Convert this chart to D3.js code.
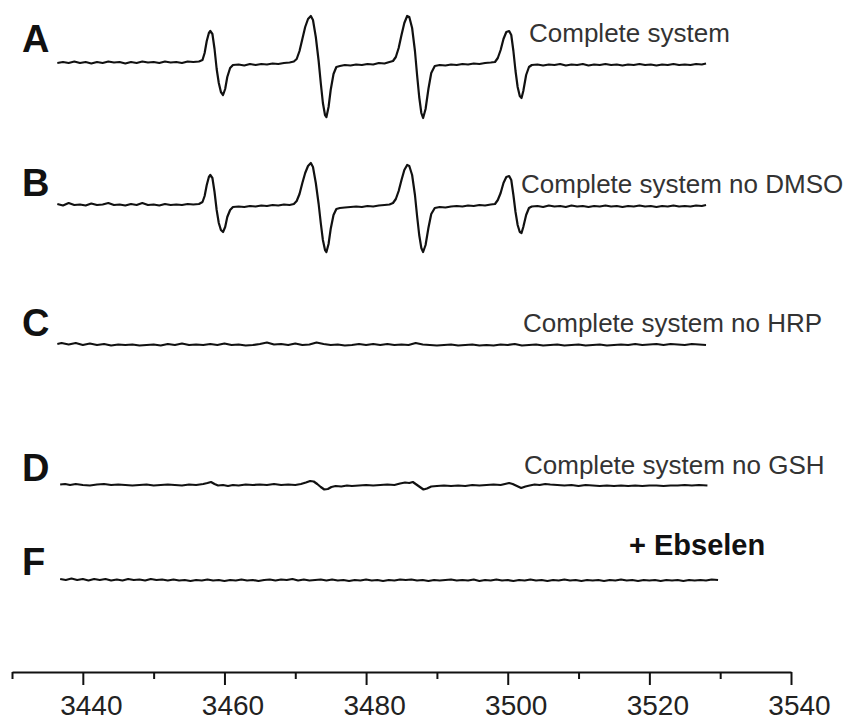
<!DOCTYPE html>
<html>
<head>
<meta charset="utf-8">
<script src="https://cdn.jsdelivr.net/npm/d3@7/dist/d3.min.js"></script>
<style>
  html, body { margin: 0; padding: 0; background: #fff; }
  svg { display: block; }
  text { font-family: "Liberation Sans", Arial, sans-serif; fill: #111; }
</style>
</head>
<body>
<svg id="chart" width="845" height="722"></svg>
<script>
// ---------------- DATA (field in gauss, intensity in arbitrary units) ----------------
const panelLetters = ["A", "B", "C", "D", "F"];
const panelTitles = ["Complete system", "Complete system no DMSO", "Complete system no HRP", "Complete system no GSH", "+ Ebselen"];
const tickValues = [3430, 3440, 3450, 3460, 3470, 3480, 3490, 3500, 3510, 3520, 3530, 3540];
const tickLabels = ["3440", "3460", "3480", "3500", "3520", "3540"];

const traceA = [
  [3436.4,0],[3437.2,1],[3438.0,0],[3438.8,1.5],[3439.6,0],[3440.4,1],[3441.2,-0.5],[3442.0,1],[3442.8,0],[3443.6,1.5],
  [3444.4,0.5],[3445.2,1],[3446.0,-0.5],[3446.8,1],[3447.6,0],[3448.4,1.5],[3449.2,0.5],[3450.0,1],[3450.8,0],[3451.6,1.5],
  [3452.4,0.5],[3453.2,1],[3454.0,0],[3454.8,1.5],[3455.6,1],[3456.4,1.5],[3456.9,3],
  [3457.2,10],[3457.5,22],[3457.8,30],[3458.0,32],[3458.3,29],[3458.6,14],[3458.9,-6],[3459.2,-20],[3459.5,-29],[3459.8,-32],
  [3460.1,-26],[3460.4,-14],[3460.8,-5],[3461.2,-2],
  [3462.0,-1.5],[3462.8,-2.5],[3463.6,-1],[3464.4,-2],[3465.2,-1],[3466.0,-1.5],[3466.8,-0.5],[3467.6,-1],[3468.4,0],[3469.2,0.5],[3469.8,1.5],
  [3470.2,4],[3470.6,12],[3471.0,24],[3471.4,36],[3471.8,44],[3472.2,47],[3472.5,43],[3472.9,26],[3473.3,2],[3473.6,-20],
  [3473.9,-40],[3474.2,-52],[3474.4,-54],[3474.7,-44],[3475.0,-27],[3475.4,-11],[3475.8,-4],[3476.3,-3],
  [3477.0,-2],[3477.8,-2.5],[3478.6,-1.5],[3479.4,-2],[3480.2,-1],[3481.0,-1.5],[3481.8,0],[3482.6,-0.5],[3483.3,1],[3483.8,2],
  [3484.2,6],[3484.6,15],[3485.0,28],[3485.4,40],[3485.8,47],[3486.1,46],[3486.5,35],[3486.9,12],[3487.2,-12],[3487.5,-34],
  [3487.8,-50],[3488.05,-55],[3488.4,-46],[3488.8,-26],[3489.2,-10],[3489.7,-3],
  [3490.4,-2],[3491.2,-2.5],[3492.0,-1.5],[3492.8,-2],[3493.6,-1],[3494.4,-1.5],[3495.2,-0.5],[3496.0,-1],[3496.8,0],[3497.6,0.5],[3498.2,1],
  [3498.6,5],[3499.0,13],[3499.4,24],[3499.8,31],[3500.2,32],[3500.5,28],[3500.8,12],[3501.1,-8],[3501.4,-24],[3501.7,-33],
  [3501.95,-35],[3502.2,-28],[3502.6,-12],[3503.0,-4],[3503.4,-2],
  [3504.2,-1.5],[3505.0,-2.5],[3505.8,-1.5],[3506.6,-2],[3507.4,-1],[3508.2,-2.5],[3509.0,-1.5],[3509.8,-2],[3510.6,-1],[3511.4,-2.5],
  [3512.2,-1.5],[3513.0,-2],[3513.8,-1],[3514.6,-2],[3515.4,-1.5],[3516.2,-2.5],[3517.0,-1.5],[3517.8,-2],[3518.6,-1],[3519.4,-2],
  [3520.2,-1.5],[3521.0,-2.5],[3521.8,-1.5],[3522.6,-2],[3523.4,-1],[3524.2,-2],[3525.0,-1.5],[3525.8,-2],[3526.6,-1],[3527.4,-1.5],[3528.0,-0.5]
];

const traceB = [
  [3436.4,1],[3437.2,-0.5],[3438.0,2],[3438.8,0],[3439.6,0.5],[3440.4,-0.5],[3441.2,1.5],[3442.0,0],[3442.8,0.5],[3443.6,2],
  [3444.4,0],[3445.2,0.5],[3446.0,-0.5],[3446.8,1],[3447.6,0],[3448.4,2],[3449.2,0],[3450.0,0.5],[3450.8,-0.5],[3451.6,1],
  [3452.4,0],[3453.2,0.5],[3454.0,0],[3454.8,1],[3455.6,0.5],[3456.4,1],[3456.9,3],
  [3457.2,9],[3457.5,20],[3457.8,28],[3458.0,30],[3458.3,27],[3458.6,13],[3458.9,-5],[3459.2,-18],[3459.5,-25],[3459.8,-27],
  [3460.1,-22],[3460.4,-12],[3460.8,-5],[3461.2,-2],
  [3462.0,-1.5],[3462.8,-2],[3463.6,-1],[3464.4,-1.5],[3465.2,-0.5],[3466.0,-1],[3466.8,0],[3467.6,-0.5],[3468.4,0.5],[3469.2,0],[3469.8,1],
  [3470.2,4],[3470.6,11],[3471.0,22],[3471.4,32],[3471.8,39],[3472.2,42],[3472.5,38],[3472.9,22],[3473.3,1],[3473.6,-18],
  [3473.9,-35],[3474.2,-45],[3474.4,-47],[3474.7,-39],[3475.0,-24],[3475.4,-10],[3475.8,-4],[3476.3,-3],
  [3477.0,-2.5],[3477.8,-2],[3478.6,-1.5],[3479.4,-2],[3480.2,-1],[3481.0,-1.5],[3481.8,-0.5],[3482.6,0],[3483.3,0.5],[3483.8,2],
  [3484.2,6],[3484.6,14],[3485.0,25],[3485.4,35],[3485.8,40],[3486.1,39],[3486.5,30],[3486.9,10],[3487.2,-11],[3487.5,-30],
  [3487.8,-43],[3488.05,-47],[3488.4,-40],[3488.8,-23],[3489.2,-9],[3489.7,-3],
  [3490.4,-2],[3491.2,-2.5],[3492.0,-1.5],[3492.8,-1],[3493.6,-1.5],[3494.4,-0.5],[3495.2,-1],[3496.0,0],[3496.8,-0.5],[3497.6,0.5],[3498.2,1],
  [3498.6,5],[3499.0,12],[3499.4,22],[3499.8,28],[3500.2,29],[3500.5,25],[3500.8,10],[3501.1,-7],[3501.4,-20],[3501.7,-27],
  [3501.95,-28],[3502.2,-22],[3502.6,-10],[3503.0,-3],[3503.4,-1.5],
  [3504.2,-1],[3505.0,-2],[3505.8,-0.5],[3506.6,-1.5],[3507.4,-1],[3508.2,-2],[3509.0,-0.5],[3509.8,-1.5],[3510.6,-1],[3511.4,-2],
  [3512.2,-1],[3513.0,-1.5],[3513.8,-0.5],[3514.6,-1.5],[3515.4,-1],[3516.2,-2],[3517.0,-1],[3517.8,-1.5],[3518.6,-0.5],[3519.4,-1.5],
  [3520.2,-1],[3521.0,-2],[3521.8,-1],[3522.6,-1.5],[3523.4,-0.5],[3524.2,-1.5],[3525.0,-1],[3525.8,-1.5],[3526.6,-0.5],[3527.4,-1],[3528.0,0]
];

const traceC = [
  [3436.4,1],[3437,2],[3438,0.5],[3439,2],[3440,0],[3441,1.5],[3442,0],[3443,1],[3444,-0.5],[3445,0.5],
  [3446,0],[3447,0.5],[3448,-0.5],[3449,0],[3450,0.5],[3451,-0.5],[3452,1],[3453,0],[3454,1.5],[3455,0],
  [3456,0.5],[3457,0],[3458,1],[3459,0],[3460,1.5],[3461,0],[3462,0.5],[3463,-0.5],[3464,0],[3465,1],
  [3466,2.5],[3467,0.5],[3468,1],[3469,0],[3470,1.5],[3471,0],[3472,0.5],[3473,2.5],[3474,1],[3475,0],
  [3476,0.5],[3477,-0.5],[3478,0],[3479,1],[3480,0],[3481,1],[3482,0],[3483,1],[3484,0],[3485,0.5],
  [3486,0],[3487,2],[3488,0.5],[3489,0],[3490,-0.5],[3491,0],[3492,0.5],[3493,-0.5],[3494,0],[3495,0.5],
  [3496,-0.5],[3497,0],[3498,-0.5],[3499,0.5],[3500,0],[3501,1],[3502,-0.5],[3503,0],[3504,0.5],[3505,-0.5],
  [3506,0],[3507,0.5],[3508,-0.5],[3509,0],[3510,0.5],[3511,-0.5],[3512,0],[3513,0.5],[3514,-0.5],[3515,0],
  [3516,0.5],[3517,0],[3518,1],[3519,0],[3520,0.5],[3521,1],[3522,0],[3523,1],[3524,0.5],[3525,0],
  [3526,1],[3527,0.5],[3528,0]
];

const traceD = [
  [3436.8,0.5],[3437.5,1],[3438.2,0],[3439,1],[3440,0],[3441,-0.5],[3442,0.5],[3443,1],[3444,0],[3445,0.5],
  [3446,0],[3447,-0.5],[3448,0],[3449,0.5],[3450,-0.5],[3451,0],[3452,0.5],[3453,0],[3454,-0.5],[3455,0.5],
  [3456,0],[3457,1],[3457.6,2],[3458.1,3],[3458.6,1],[3459.1,-0.5],[3459.8,0],[3460.5,-1],[3461.2,0],[3462,-0.5],
  [3463,0.5],[3464,0],[3465,0.5],[3466,0],[3467,1],[3468,0],[3469,0.5],[3470,0],[3470.8,1],[3471.5,2.5],
  [3472.1,4],[3472.6,3.5],[3473.1,1],[3473.6,-2],[3474.1,-4.5],[3474.6,-4],[3475.1,-2],[3475.7,-1],[3476.5,-1.5],[3477.3,-0.5],
  [3478,-1],[3479,-0.5],[3480,0],[3481,-0.5],[3482,0],[3483,0.5],[3484,0],[3484.8,1.5],[3485.5,2.5],[3486.1,2],
  [3486.6,3],[3487.1,0.5],[3487.6,-2],[3488.1,-4.5],[3488.6,-3.5],[3489.2,-1.5],[3490,-1],[3491,-0.5],[3492,-1],[3493,-0.5],
  [3494,-1],[3495,0],[3496,-0.5],[3497,0],[3498,0.5],[3499,0],[3499.6,1],[3500.2,2],[3500.7,1],[3501.3,-1],
  [3501.9,-3],[3502.5,-1.5],[3503.1,-0.5],[3503.8,0.5],[3504.5,0],[3505.3,1],[3506,0.5],[3507,0],[3508,-0.5],[3509,0],
  [3510,-1],[3511,0],[3512,-0.5],[3513,-1],[3514,-0.5],[3515,-1],[3516,-0.5],[3517,-1],[3518,-0.5],[3519,-1],
  [3520,-0.5],[3521,-0.5],[3522,-1],[3523,-0.5],[3524,-0.5],[3525,0],[3526,-0.5],[3527,0],[3528.2,-0.5]
];

const traceF = [
  [3436.8,1],[3437.6,0],[3438.4,1.5],[3439.2,0],[3440,1],[3440.8,-0.5],[3441.6,1],[3442.4,0],[3443.2,1],[3444,-0.5],
  [3444.8,0.5],[3445.6,-0.5],[3446.4,1],[3447.2,0],[3448,0.5],[3448.8,-0.5],[3449.6,1],[3450.4,0],[3451.2,0.5],[3452,-0.5],
  [3452.8,0.5],[3453.6,-0.5],[3454.4,0],[3455.2,-1],[3456,0],[3456.8,-0.5],[3457.6,0.5],[3458.4,-0.5],[3459.2,0],[3460,-1],
  [3460.8,0],[3461.6,-0.5],[3462.4,0.5],[3463.2,-0.5],[3464,0],[3464.8,-1],[3465.6,0],[3466.4,0.5],[3467.2,-0.5],[3468,0.5],
  [3468.8,0],[3469.6,1],[3470.4,-0.5],[3471.2,0.5],[3472,-0.5],[3472.8,0],[3473.6,0.5],[3474.4,-0.5],[3475.2,0.5],[3476,-0.5],
  [3476.8,0],[3477.6,-1],[3478.4,0],[3479.2,-0.5],[3480,0.5],[3480.8,-0.5],[3481.6,0],[3482.4,-1],[3483.2,0],[3484,-0.5],
  [3484.8,0.5],[3485.6,0],[3486.4,0.5],[3487.2,-0.5],[3488,0],[3488.8,-1],[3489.6,0],[3490.4,-0.5],[3491.2,0],[3492,0.5],
  [3492.8,-0.5],[3493.6,0],[3494.4,-0.5],[3495.2,0.5],[3496,-1],[3496.8,0],[3497.6,-0.5],[3498.4,0.5],[3499.2,-0.5],[3500,0],
  [3500.8,-1],[3501.6,0],[3502.4,-0.5],[3503.2,0.5],[3504,-0.5],[3504.8,0],[3505.6,-1],[3506.4,0],[3507.2,-0.5],[3508,0.5],
  [3508.8,-0.5],[3509.6,0],[3510.4,-1],[3511.2,0],[3512,-0.5],[3512.8,0],[3513.6,-1],[3514.4,0],[3515.2,-0.5],[3516,0.5],
  [3516.8,-0.5],[3517.6,0],[3518.4,-1],[3519.2,0],[3520,-0.5],[3520.8,0],[3521.6,-1],[3522.4,0],[3523.2,-0.5],[3524,0],
  [3524.8,-1],[3525.6,0],[3526.4,-0.5],[3527.2,0],[3528,-0.5],[3528.8,0.5],[3529.7,0]
];

const traces = [traceA, traceB, traceC, traceD, traceF];

// ---------------- LAYOUT ----------------
const traceBaselineY = [63, 205, 345, 485, 580];
const letterBaselineY = [52, 196, 336, 481, 575];
const titleX = [529, 521, 523, 524, 629];
const titleY = [42, 193, 332, 474, 555];
const axisY = 672;

const svg = d3.select("#chart");

const x = d3.scaleLinear().domain([3430, 3540]).range([12, 791]);
const y = d3.scaleLinear().domain([-60, 60]).range([60, -60]);

const line = d3.line()
  .x(d => x(d[0]))
  .y(d => y(d[1]))
  .curve(d3.curveLinear);

traces.forEach((tr, i) => {
  const g = svg.append("g").attr("transform", `translate(0,${traceBaselineY[i]})`);
  g.append("path")
    .datum(tr)
    .attr("d", line)
    .attr("fill", "none")
    .attr("stroke", "#111")
    .attr("stroke-width", 2.2)
    .attr("stroke-linejoin", "round");
});

// panel letters
svg.selectAll("text.letter")
  .data(panelLetters)
  .enter().append("text")
  .attr("class", "letter")
  .attr("x", 22)
  .attr("y", (d, i) => letterBaselineY[i])
  .style("font-size", "38px")
  .style("font-weight", "bold")
  .text(d => d);

// panel titles
svg.selectAll("text.title")
  .data(panelTitles)
  .enter().append("text")
  .attr("class", "title")
  .attr("x", (d, i) => titleX[i])
  .attr("y", (d, i) => titleY[i])
  .style("font-size", (d, i) => i === 4 ? "29px" : "26px")
  .style("font-weight", (d, i) => i === 4 ? "bold" : "normal")
  .style("fill", (d, i) => i === 4 ? "#111" : "#333")
  .text(d => d);

// x axis
const axis = d3.axisBottom(x)
  .tickValues(tickValues)
  .tickSize(13)
  .tickSizeOuter(0)
  .tickFormat(d => tickLabels.includes(String(d)) ? String(d) : "");

const ag = svg.append("g")
  .attr("transform", `translate(0,${axisY})`)
  .call(axis);

ag.select(".domain").attr("stroke", "#111").attr("stroke-width", 2.2);
ag.selectAll(".tick line")
  .attr("stroke", "#111")
  .attr("stroke-width", 2)
  .attr("y2", d => tickLabels.includes(String(d)) ? 13 : 7);
ag.selectAll(".tick text")
  .attr("y", 43)
  .attr("dy", 0)
  .attr("dx", 8)
  .style("font-size", "28px")
  .style("font-family", "\"Liberation Sans\", Arial, sans-serif")
  .style("fill", "#222");
</script>
</body>
</html>
